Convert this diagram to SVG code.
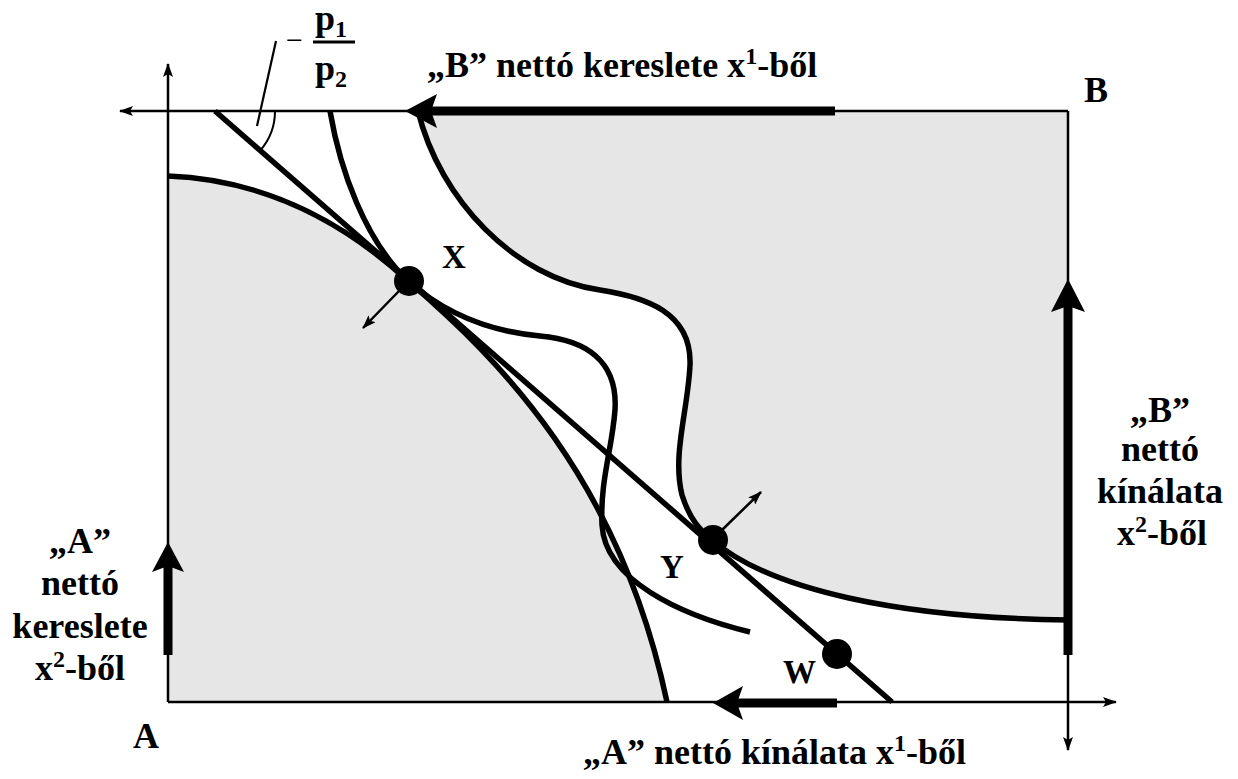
<svg xmlns="http://www.w3.org/2000/svg" width="1238" height="779" viewBox="0 0 1238 779">
<style>
.t{font-family:"Liberation Serif","Times New Roman",serif;font-weight:bold;font-size:36px;fill:#000}
.pt{font-family:"Liberation Serif","Times New Roman",serif;font-weight:bold;font-size:33px;fill:#000}
.ax{stroke:#000;stroke-width:2.5;fill:none}
.cv{stroke:#000;stroke-width:5.5;fill:none;stroke-linecap:butt}
.thick{stroke:#000;stroke-width:9;fill:none}
.gray{fill:#e6e6e6;stroke:none}
</style>
<defs>
<marker id="ah" viewBox="0 0 14 10" refX="13" refY="5" markerWidth="14" markerHeight="10" markerUnits="userSpaceOnUse" orient="auto">
<path d="M0,0 L14,5 L0,10 L3,5 z" fill="#000"/>
</marker>
</defs>
<rect width="1238" height="779" fill="#fff"/>
<g id="regions">
<path class="gray" d="M168,176 C275,180 355,232 408,281 C500,360 620,480 667,702 L168,702 Z"/>
<path class="gray" d="M418,111 C440,200 515,278 600,290 C645,297 692,312 690,365 C688,410 672,455 682,495 C690,520 700,530 712,540 C770,590 900,618 1068,620 L1068,111 Z"/>
</g>
<g id="connectors">
<line class="ax" x1="1068" y1="111" x2="120" y2="111" marker-end="url(#ah)"/>
<line class="ax" x1="168" y1="702" x2="168" y2="64" marker-end="url(#ah)"/>
<line class="ax" x1="168" y1="702" x2="1116" y2="702" marker-end="url(#ah)"/>
<line class="ax" x1="1068" y1="111" x2="1068" y2="750" marker-end="url(#ah)"/>
<path class="cv" d="M168,176 C275,180 355,232 408,281 C500,360 620,480 667,702"/>
<path class="cv" d="M330,111 C340,170 365,240 408,281 C450,318 495,332 540,336 C585,340 618,360 615,410 C612,450 600,480 602,525 C605,580 680,615 750,632"/>
<path class="cv" d="M418,111 C440,200 515,278 600,290 C645,297 692,312 690,365 C688,410 672,455 682,495 C690,520 700,530 712,540 C770,590 900,618 1068,620"/>
<line class="cv" x1="215" y1="111" x2="892" y2="702"/>
<path d="M275,111 A60,60 0 0 1 260.2,150.5" fill="none" stroke="#000" stroke-width="2"/>
<line x1="257" y1="126" x2="276" y2="41" stroke="#000" stroke-width="2.2"/>
<line class="thick" x1="835" y1="111" x2="430" y2="111"/>
<polygon points="405,111 437,94 431,111 437,128" fill="#000"/>
<line class="thick" x1="1068" y1="655" x2="1068" y2="305"/>
<polygon points="1068,279 1051,312 1068,306 1085,312" fill="#000"/>
<line class="thick" x1="168" y1="655" x2="168" y2="566"/>
<polygon points="168,542 152,572 168,566 184,572" fill="#000"/>
<line class="thick" x1="837" y1="703" x2="737" y2="703"/>
<polygon points="713,703 743,686 737,703 743,720" fill="#000"/>
<line x1="400" y1="290" x2="363" y2="328" stroke="#000" stroke-width="2.5" marker-end="url(#ah)"/>
<line x1="722" y1="530" x2="761" y2="492" stroke="#000" stroke-width="2.5" marker-end="url(#ah)"/>
</g>
<g id="point-X">
<circle cx="409" cy="281" r="15" fill="#000"/>
<text class="pt" x="442" y="268">X</text>
</g>
<g id="point-Y">
<circle cx="713" cy="540" r="15" fill="#000"/>
<text class="pt" x="660" y="578">Y</text>
</g>
<g id="point-W">
<circle cx="837" cy="654" r="15" fill="#000"/>
<text class="pt" x="783" y="683">W</text>
</g>
<g id="label-slope">
<text x="286" y="50" font-family="Liberation Serif, serif" font-size="30" fill="#000">−</text>
<text class="t" x="315" y="30">p<tspan font-size="24" dy="7">1</tspan></text>
<line x1="313" y1="42" x2="355" y2="42" stroke="#000" stroke-width="3"/>
<text class="t" x="315" y="80">p<tspan font-size="24" dy="7">2</tspan></text>
</g>
<g id="label-B-demand">
<text class="t" x="427" y="77">„B” nettó kereslete x<tspan font-size="24" dy="-13">1</tspan><tspan dy="13">-ből</tspan></text>
</g>
<g id="label-A-supply">
<text class="t" x="583" y="764">„A” nettó kínálata x<tspan font-size="24" dy="-13">1</tspan><tspan dy="13">-ből</tspan></text>
</g>
<g id="label-B">
<text class="t" x="1084" y="102">B</text>
</g>
<g id="label-A">
<text class="t" x="133" y="748">A</text>
</g>
<g id="label-B-supply">
<text class="t" text-anchor="middle" x="1160" y="422">„B”</text>
<text class="t" text-anchor="middle" x="1160" y="461">nettó</text>
<text class="t" text-anchor="middle" x="1160" y="503">kínálata</text>
<text class="t" text-anchor="middle" x="1162" y="545">x<tspan font-size="24" dy="-13">2</tspan><tspan dy="13">-ből</tspan></text>
</g>
<g id="label-A-demand">
<text class="t" text-anchor="middle" x="80" y="553">„A”</text>
<text class="t" text-anchor="middle" x="80" y="595">nettó</text>
<text class="t" text-anchor="middle" x="80" y="638">kereslete</text>
<text class="t" text-anchor="middle" x="80" y="680">x<tspan font-size="24" dy="-13">2</tspan><tspan dy="13">-ből</tspan></text>
</g>
</svg>
